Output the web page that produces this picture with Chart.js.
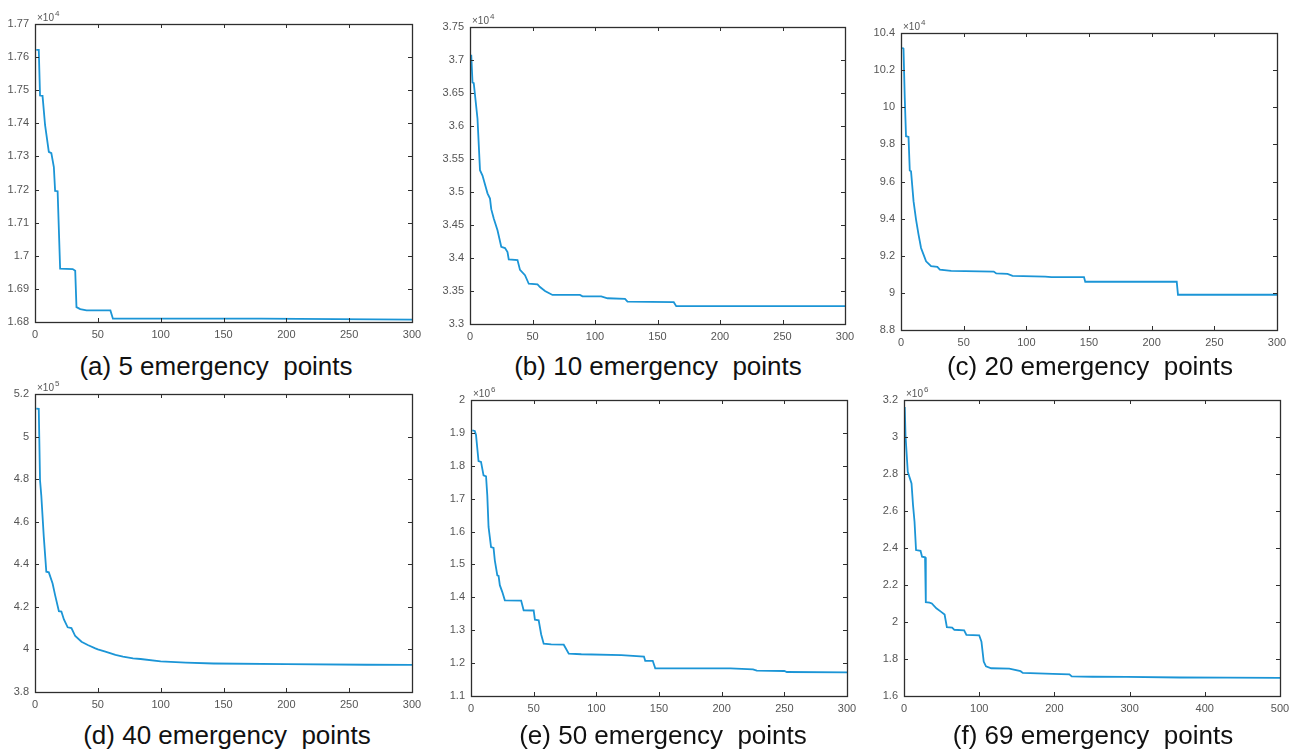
<!DOCTYPE html>
<html>
<head>
<meta charset="utf-8">
<script src="https://cdn.jsdelivr.net/npm/chart.js@4.4.1/dist/chart.umd.min.js"></script>
<style>
  body { margin: 0; background: #fff; }
  #page { position: relative; width: 1295px; height: 756px; overflow: hidden; }
  .panel { position: absolute; }
  .caption {
    position: absolute;
    font-family: "Liberation Sans", Arial, sans-serif;
    font-size: 26px;
    color: #111;
    white-space: pre;
    transform: translate(-50%, -50%);
  }
</style>
</head>
<body>
<div id="page"></div>
<script>
// best cost per iteration, values given in units of 10^exponent
const itersA = [1, 3, 4, 6, 8, 11, 13, 15, 16, 18, 20, 30, 32, 33, 36, 41, 60, 62, 180, 300];
const costA  = [1.7622, 1.7622, 1.7484, 1.7483, 1.7395, 1.7314, 1.7310, 1.7268, 1.7196, 1.7195, 1.6961, 1.6960, 1.6955, 1.6845, 1.6839, 1.6835, 1.6835, 1.6810, 1.6810, 1.6807];

const itersB = [1, 2, 3, 6, 8, 10, 14, 16, 17, 19, 22, 25, 28, 30, 31, 38, 40, 44, 47, 54, 56, 60, 63, 66, 88, 90, 105, 110, 124, 126, 163, 165, 300];
const costB  = [3.708, 3.666, 3.665, 3.611, 3.533, 3.525, 3.498, 3.490, 3.474, 3.460, 3.442, 3.417, 3.415, 3.409, 3.398, 3.397, 3.382, 3.374, 3.361, 3.360, 3.356, 3.350, 3.347, 3.344, 3.344, 3.342, 3.342, 3.339, 3.338, 3.334, 3.333, 3.327, 3.327];

const itersC = [1, 2, 3, 4, 6, 7, 8, 10, 12, 14, 16, 18, 20, 24, 29, 31, 40, 74, 76, 85, 89, 115, 120, 146, 147, 220, 221, 300];
const costC  = [10.321, 10.315, 10.05, 9.844, 9.840, 9.659, 9.655, 9.494, 9.395, 9.314, 9.242, 9.206, 9.170, 9.144, 9.140, 9.125, 9.118, 9.115, 9.105, 9.102, 9.092, 9.088, 9.085, 9.085, 9.060, 9.060, 8.990, 8.990];

const itersD = [1, 3, 4, 5, 7, 9, 11, 14, 16, 19, 21, 23, 26, 29, 32, 37, 42, 48, 50, 56, 64, 70, 78, 84, 100, 120, 142, 200, 264, 300];
const costD  = [5.131, 5.130, 4.795, 4.724, 4.529, 4.365, 4.362, 4.310, 4.255, 4.180, 4.178, 4.141, 4.104, 4.100, 4.063, 4.036, 4.021, 4.005, 4.000, 3.990, 3.974, 3.966, 3.958, 3.955, 3.944, 3.938, 3.934, 3.931, 3.928, 3.927];

const itersE = [1, 3, 4, 6, 8, 10, 12, 13, 14, 16, 18, 19, 21, 22, 23, 25, 27, 40, 42, 50, 51, 54, 56, 58, 64, 74, 78, 88, 120, 138, 139, 145, 147, 207, 225, 228, 250, 252, 300];
const costE  = [1.908, 1.906, 1.894, 1.8145, 1.812, 1.771, 1.768, 1.710, 1.614, 1.553, 1.550, 1.5125, 1.467, 1.465, 1.437, 1.416, 1.391, 1.390, 1.3605, 1.360, 1.332, 1.330, 1.287, 1.259, 1.257, 1.256, 1.229, 1.227, 1.224, 1.220, 1.207, 1.207, 1.184, 1.184, 1.181, 1.177, 1.176, 1.173, 1.172];

const itersF = [1, 2, 5, 10, 12, 14, 16, 22, 24, 28, 29, 34, 37, 43, 49, 54, 57, 64, 67, 80, 83, 100, 103, 106, 109, 116, 140, 155, 158, 198, 220, 223, 251, 296, 367, 430, 500];
const costF  = [3.162, 3.009, 2.812, 2.749, 2.632, 2.542, 2.389, 2.385, 2.353, 2.350, 2.107, 2.105, 2.100, 2.074, 2.056, 2.040, 1.972, 1.970, 1.958, 1.955, 1.930, 1.928, 1.894, 1.786, 1.760, 1.750, 1.748, 1.734, 1.725, 1.720, 1.717, 1.706, 1.704, 1.703, 1.700, 1.699, 1.698];

// axis ticks
const xTicks300 = [0, 50, 100, 150, 200, 250, 300];
const xTicks500 = [0, 100, 200, 300, 400, 500];
const yTicksA = [1.68, 1.69, 1.70, 1.71, 1.72, 1.73, 1.74, 1.75, 1.76, 1.77];
const yTicksB = [3.3, 3.35, 3.4, 3.45, 3.5, 3.55, 3.6, 3.65, 3.7, 3.75];
const yTicksC = [8.8, 9, 9.2, 9.4, 9.6, 9.8, 10, 10.2, 10.4];
const yTicksD = [3.8, 4, 4.2, 4.4, 4.6, 4.8, 5, 5.2];
const yTicksE = [1.1, 1.2, 1.3, 1.4, 1.5, 1.6, 1.7, 1.8, 1.9, 2];
const yTicksF = [1.6, 1.8, 2, 2.2, 2.4, 2.6, 2.8, 3, 3.2];

const captions = ['(a) 5 emergency  points', '(b) 10 emergency  points', '(c) 20 emergency  points',
                  '(d) 40 emergency  points', '(e) 50 emergency  points', '(f) 69 emergency  points'];
const exponents = [4, 4, 4, 5, 6, 6];

// plot box of each panel: left, top, right, bottom
const panels = [
  { iters: itersA, cost: costA, xTicks: xTicks300, yTicks: yTicksA, box: [35, 24, 412, 322] },
  { iters: itersB, cost: costB, xTicks: xTicks300, yTicks: yTicksB, box: [470, 27, 845, 324] },
  { iters: itersC, cost: costC, xTicks: xTicks300, yTicks: yTicksC, box: [901, 33, 1277, 330] },
  { iters: itersD, cost: costD, xTicks: xTicks300, yTicks: yTicksD, box: [35, 394, 412, 692] },
  { iters: itersE, cost: costE, xTicks: xTicks300, yTicks: yTicksE, box: [471, 400, 847, 696] },
  { iters: itersF, cost: costF, xTicks: xTicks500, yTicks: yTicksF, box: [904, 400, 1280, 696] }
];
// caption centres
const captionX = [216, 658, 1090, 227, 663, 1093];
const captionY = [366, 366, 366, 735, 735, 735];

const FONT = '"Liberation Sans", Arial, sans-serif';
const PAD_LEFT = 40, PAD_TOP = 14, PAD_RIGHT = 16, PAD_BOTTOM = 26;

// frame, inward tick marks and the x10^n label
const matlabAxes = {
  id: 'matlabAxes',
  afterDatasetsDraw(chart, args, opts) {
    const { ctx, chartArea: a, scales: { x, y } } = chart;
    ctx.save();
    ctx.strokeStyle = '#2e2e2e';
    ctx.lineWidth = 1;
    ctx.beginPath();
    x.ticks.forEach(t => {
      const px = Math.round(x.getPixelForValue(t.value)) + 0.5;
      ctx.moveTo(px, a.bottom); ctx.lineTo(px, a.bottom - 4);
      ctx.moveTo(px, a.top); ctx.lineTo(px, a.top + 4);
    });
    y.ticks.forEach(t => {
      const py = Math.round(y.getPixelForValue(t.value)) + 0.5;
      ctx.moveTo(a.left, py); ctx.lineTo(a.left + 4, py);
      ctx.moveTo(a.right, py); ctx.lineTo(a.right - 4, py);
    });
    ctx.stroke();
    ctx.lineWidth = 1.3;
    ctx.strokeRect(Math.round(a.left) + 0.5, Math.round(a.top) + 0.5,
                   Math.round(a.right - a.left), Math.round(a.bottom - a.top));

    ctx.fillStyle = '#555';
    ctx.textBaseline = 'alphabetic';
    ctx.font = '10px ' + FONT;
    ctx.fillText('\u00d710', a.left + 2, a.top - 3);
    const w = ctx.measureText('\u00d710').width;
    ctx.font = '8px ' + FONT;
    ctx.fillText(String(opts.exponent), a.left + 2 + w + 1, a.top - 8);
    ctx.restore();
  }
};

const page = document.getElementById('page');

panels.forEach((p, i) => {
  const [l, t, r, b] = p.box;
  const wrap = document.createElement('div');
  wrap.className = 'panel';
  wrap.style.left = (l - PAD_LEFT) + 'px';
  wrap.style.top = (t - PAD_TOP) + 'px';
  wrap.style.width = (r - l + PAD_LEFT + PAD_RIGHT) + 'px';
  wrap.style.height = (b - t + PAD_TOP + PAD_BOTTOM) + 'px';
  const canvas = document.createElement('canvas');
  wrap.appendChild(canvas);
  page.appendChild(wrap);

  const cap = document.createElement('div');
  cap.className = 'caption';
  cap.textContent = captions[i];
  cap.style.left = captionX[i] + 'px';
  cap.style.top = captionY[i] + 'px';
  page.appendChild(cap);

  const xs = p.xTicks, ys = p.yTicks;

  new Chart(canvas, {
    type: 'line',
    data: {
      datasets: [{
        data: p.iters.map((it, k) => ({ x: it, y: p.cost[k] })),
        borderColor: '#1b95d6',
        borderWidth: 1.8,
        pointRadius: 0,
        tension: 0,
        fill: false
      }]
    },
    options: {
      responsive: true,
      maintainAspectRatio: false,
      animation: false,
      events: [],
      layout: { autoPadding: false, padding: { left: 0, top: PAD_TOP, right: PAD_RIGHT, bottom: 0 } },
      scales: {
        x: {
          type: 'linear',
          min: xs[0],
          max: xs[xs.length - 1],
          grid: { display: false, drawTicks: false },
          border: { display: false },
          afterBuildTicks: s => { s.ticks = xs.map(v => ({ value: v })); },
          afterFit: s => { s.height = PAD_BOTTOM; },
          ticks: {
            padding: 6,
            maxRotation: 0,
            autoSkip: false,
            color: '#555',
            font: { family: FONT, size: 11 },
            callback: v => String(v)
          }
        },
        y: {
          type: 'linear',
          min: ys[0],
          max: ys[ys.length - 1],
          grid: { display: false, drawTicks: false },
          border: { display: false },
          afterBuildTicks: s => { s.ticks = ys.map(v => ({ value: v })); },
          afterFit: s => { s.width = PAD_LEFT; },
          ticks: {
            padding: 6,
            autoSkip: false,
            color: '#555',
            font: { family: FONT, size: 11 },
            callback: v => String(Number(v.toFixed(3)))
          }
        }
      },
      plugins: {
        legend: { display: false },
        tooltip: { enabled: false },
        matlabAxes: { exponent: exponents[i] }
      }
    },
    plugins: [matlabAxes]
  });
});
</script>
</body>
</html>
